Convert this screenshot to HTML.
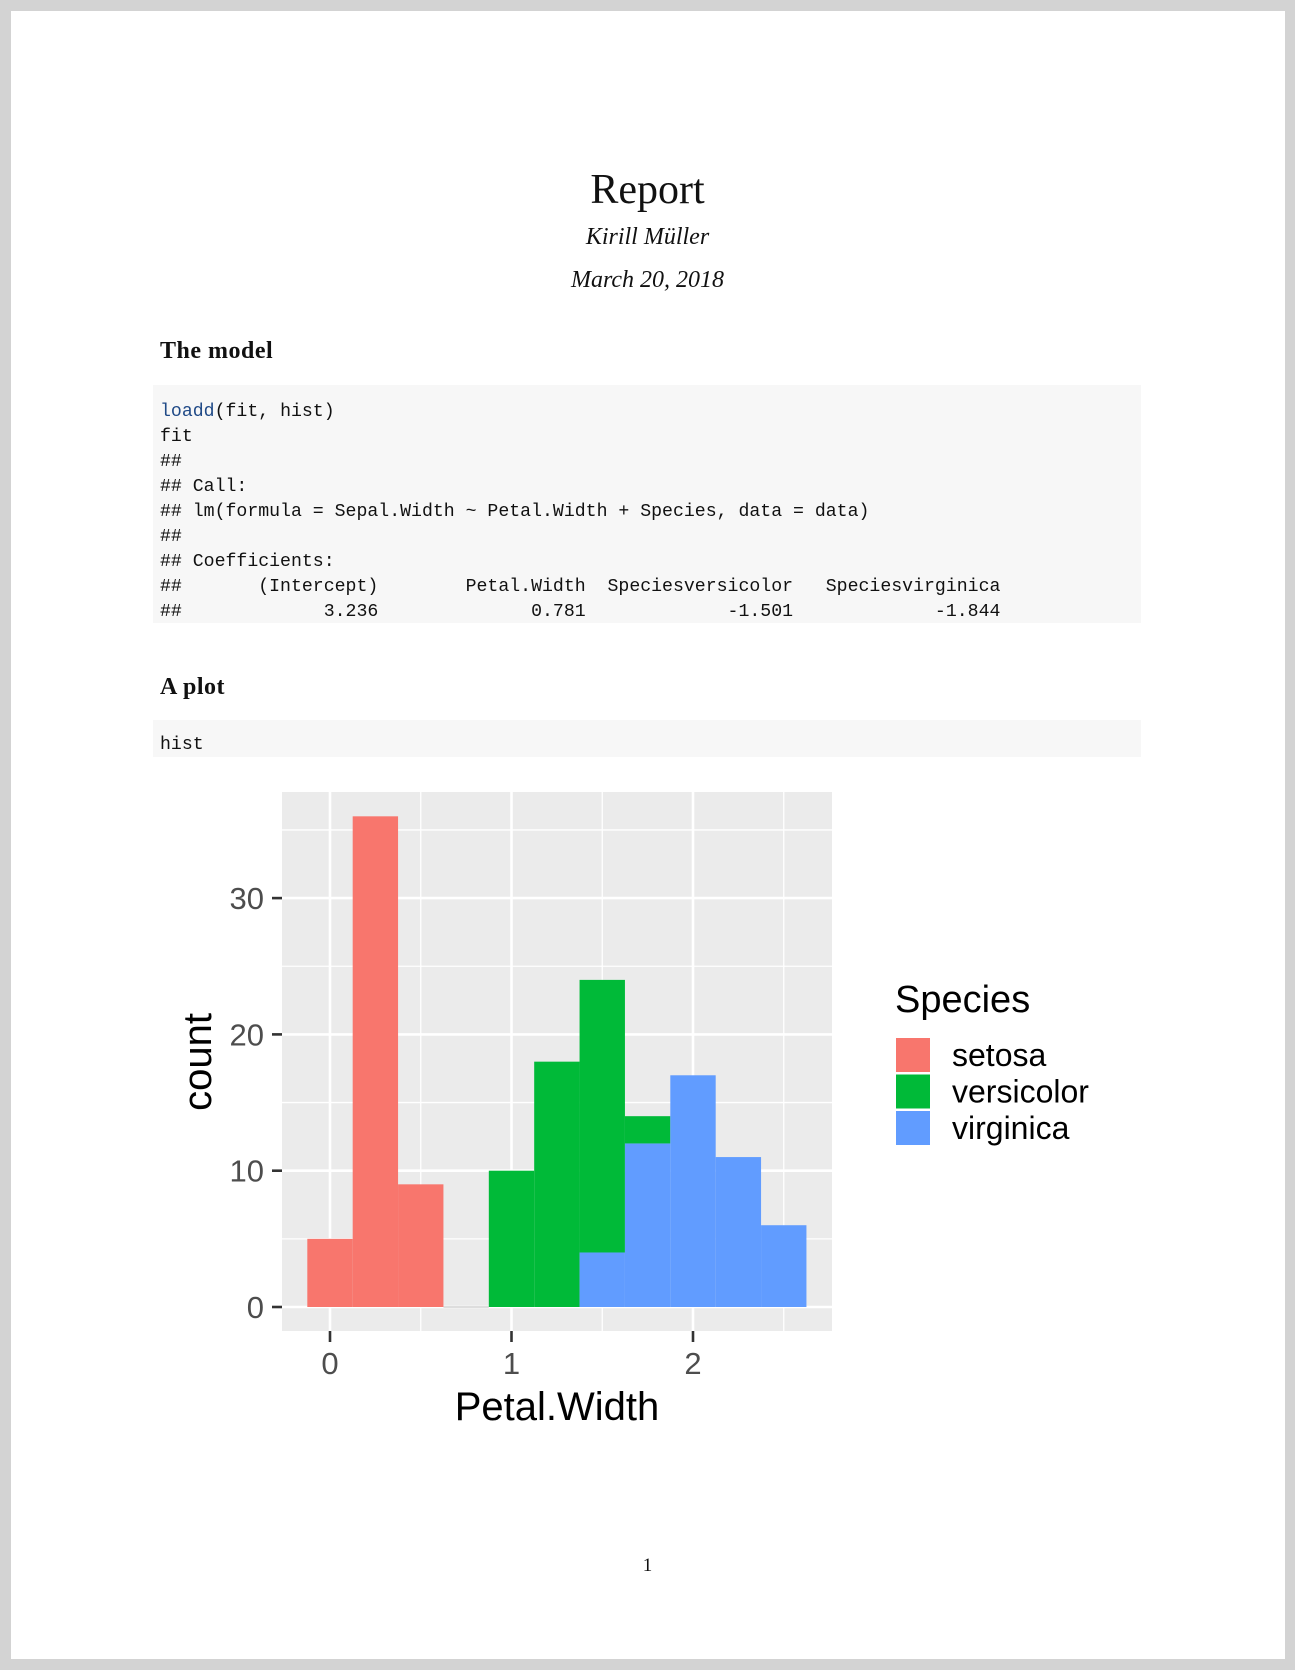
<!DOCTYPE html>
<html><head><meta charset="utf-8"><style>
html,body{margin:0;padding:0;}
body{width:1295px;height:1670px;background:#d3d3d3;position:relative;overflow:hidden;font-family:"Liberation Serif",serif;}
#page{position:absolute;left:11px;top:11px;width:1274px;height:1648px;background:#fff;}
.t{position:absolute;white-space:pre;color:#111;}
.code{position:absolute;background:#f7f7f7;}
.mono{font-family:"Liberation Mono",monospace;font-size:18.2px;line-height:25px;color:#111;}
</style></head><body>
<div id="page"></div>
<div class="t" style="left:0;width:1295px;text-align:center;top:166px;font-size:42px;">Report</div>
<div class="t" style="left:0;width:1295px;text-align:center;top:224px;font-size:24px;font-style:italic;">Kirill Müller</div>
<div class="t" style="left:0;width:1295px;text-align:center;top:267px;font-size:24px;font-style:italic;">March 20, 2018</div>
<div class="t" style="left:160px;top:338px;font-size:24px;font-weight:bold;letter-spacing:0.5px;">The model</div>
<div class="code" style="left:153px;top:385px;width:988px;height:238px;"></div>
<div class="t mono" style="left:160px;top:400px;"><span style="color:#204a87">loadd</span>(fit, hist)
fit
##
## Call:
## lm(formula = Sepal.Width ~ Petal.Width + Species, data = data)
##
## Coefficients:
##       (Intercept)        Petal.Width  Speciesversicolor   Speciesvirginica
##             3.236              0.781             -1.501             -1.844</div>
<div class="t" style="left:160px;top:674px;font-size:24px;font-weight:bold;letter-spacing:0.5px;">A plot</div>
<div class="code" style="left:153px;top:720px;width:988px;height:37px;"></div>
<div class="t mono" style="left:160px;top:733px;">hist</div>
<div class="t" style="left:0;width:1295px;text-align:center;top:1555px;font-size:19px;">1</div>
<svg id="chart" width="1295" height="1670" style="position:absolute;left:0;top:0;" font-family="Liberation Sans, sans-serif"></svg>
<script>
const binCenters=[0,0.25,0.5,0.75,1,1.25,1.5,1.75,2,2.25,2.5];
const setosa=[5,36,9,0,0,0,0,0,0,0,0];
const versicolor=[0,0,0,0,10,18,20,2,0,0,0];
const virginica=[0,0,0,0,0,0,4,12,17,11,6];
const xTicks=[0,1,2];
const yTicks=[0,10,20,30];
const species=["setosa","versicolor","virginica"];
const colors=["#F8766D","#00BA38","#619CFF"];
const binWidth=0.25;
const ns="http://www.w3.org/2000/svg";
const svg=document.getElementById('chart');
const P={l:282,r:832,t:792,b:1331};
function X(v){return 330+(v-0)*181.5;}
function Y(v){return 1307-v*13.63;}
function el(t,a,p){const e=document.createElementNS(ns,t);for(const k in a)e.setAttribute(k,a[k]);(p||svg).appendChild(e);return e;}
const panel=el('rect',{x:P.l,y:P.t,width:P.r-P.l,height:P.b-P.t,fill:'#ebebeb'});


for(let v=-0.5;v<=3;v+=0.5){const x=X(v);if(x<P.l||x>P.r)continue;const isMaj=Math.abs(v-Math.round(v))<1e-9;
 const g=el('line',{x1:x,x2:x,y1:P.t,y2:P.b,stroke:'#fff','stroke-width':isMaj?2.6:1.3});
 
 }
for(let v=-5;v<=40;v+=5){const y=Y(v);if(y<P.t||y>P.b)continue;const isMaj=v%10===0;
 const g=el('line',{x1:P.l,x2:P.r,y1:y,y2:y,stroke:'#fff','stroke-width':isMaj?2.6:1.3});
 
 }
const order=[[virginica,2],[versicolor,1],[setosa,0]];
binCenters.forEach((c,i)=>{let base=0;order.forEach(([arr,si])=>{const v=arr[i];
 const x0=X(c-binWidth/2),x1=X(c+binWidth/2);
 if(v>0){const r=el('rect',{x:x0,y:Y(base+v),width:x1-x0,height:Y(base)-Y(base+v),fill:colors[si]});
  
  }
 base+=v;});
 const total=setosa[i]+versicolor[i]+virginica[i];
 if(total===0){const z=el('line',{x1:X(c-binWidth/2),x2:X(c+binWidth/2),y1:Y(0),y2:Y(0),stroke:'#bbb','stroke-width':1});
  
  }
});
yTicks.forEach(v=>{const y=Y(v);
 const tk=el('line',{x1:272,x2:282,y1:y,y2:y,stroke:'#333','stroke-width':2.6});
 
 
 const t=el('text',{x:264,y:y+11,'text-anchor':'end','font-size':31,fill:'#4d4d4d'});t.textContent=v;
 
 });
xTicks.forEach(v=>{const x=X(v);
 const tk=el('line',{x1:x,x2:x,y1:1331,y2:1342,stroke:'#333','stroke-width':2.6});
 
 
 const t=el('text',{x:x,y:1374,'text-anchor':'middle','font-size':31,fill:'#4d4d4d'});t.textContent=v;
 
 });
const xt=el('text',{x:557,y:1420,'text-anchor':'middle','font-size':40,fill:'#000'});xt.textContent='Petal.Width';


const yt=el('text',{x:0,y:0,'text-anchor':'middle','font-size':40,fill:'#000',transform:'translate(211,1062) rotate(-90)'});yt.textContent='count';


const lt=el('text',{x:895,y:1012,'font-size':38,fill:'#000'});lt.textContent='Species';


species.forEach((s,i)=>{const y=1038+i*36.5;
 const k=el('rect',{x:896,y:y,width:34,height:34,fill:colors[i]});
 
 
 const t=el('text',{x:952,y:y+28,'font-size':32,fill:'#000'});t.textContent=s;
 
 });
</script>
</body></html>
